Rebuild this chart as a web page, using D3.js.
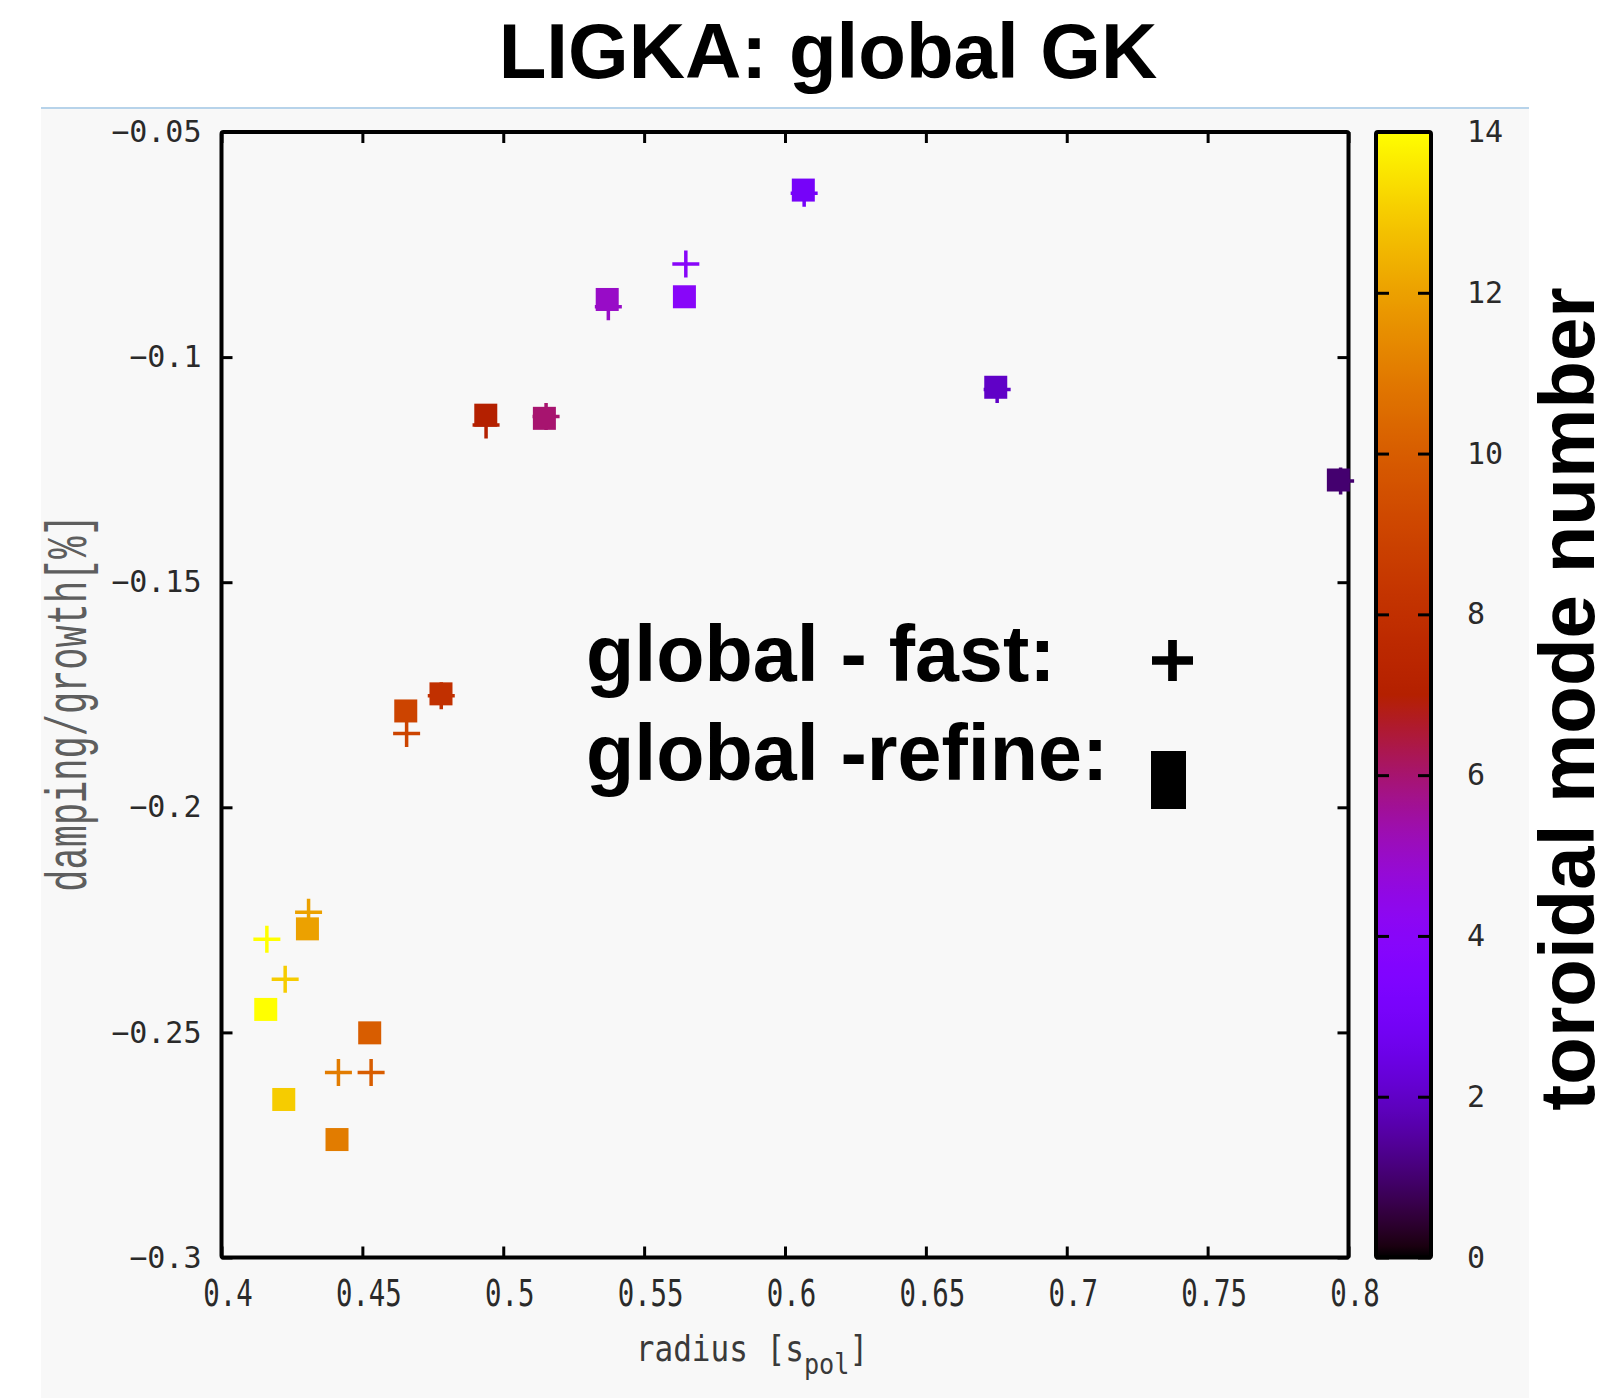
<!DOCTYPE html>
<html>
<head>
<meta charset="utf-8">
<script src="https://cdn.jsdelivr.net/npm/d3@7"></script>
<style>
  html, body { margin: 0; padding: 0; background: #ffffff; }
  svg { display: block; }
</style>
</head>
<body>
<svg id="chart" width="1612" height="1398"></svg>
<script>
// ---------------- data ----------------
const modeNumber   = [14, 13, 12, 11, 10, 9, 8, 7, 6, 5, 4, 3, 2, 1];
// global - refine (squares)
const refineRadius = [0.4157, 0.4221, 0.4305, 0.4410, 0.4526, 0.4654, 0.4779, 0.4938, 0.5146, 0.5369, 0.5643, 0.6065, 0.6748, 0.7964];
const refineGamma  = [-0.2449, -0.2649, -0.2270, -0.2738, -0.2501, -0.1786, -0.1748, -0.1129, -0.1136, -0.0872, -0.0866, -0.0629, -0.1067, -0.1273];
// global - fast (pluses)
const fastRadius   = [0.4161, 0.4226, 0.4309, 0.4415, 0.4531, 0.4657, 0.4780, 0.4939, 0.5152, 0.5373, 0.5648, 0.6068, 0.6753, 0.7972];
const fastGamma    = [-0.2293, -0.2382, -0.2233, -0.2589, -0.2589, -0.1836, -0.1752, -0.1151, -0.1132, -0.0888, -0.0793, -0.0636, -0.1072, -0.1275];

const xTicks      = [0.4, 0.45, 0.5, 0.55, 0.6, 0.65, 0.7, 0.75, 0.8];
const xTickLabels = ["0.4", "0.45", "0.5", "0.55", "0.6", "0.65", "0.7", "0.75", "0.8"];
const yTicks      = [-0.05, -0.1, -0.15, -0.2, -0.25, -0.3];
const yTickLabels = ["\u22120.05", "\u22120.1", "\u22120.15", "\u22120.2", "\u22120.25", "\u22120.3"];
const cbTicks     = [0, 2, 4, 6, 8, 10, 12, 14];
const cbTickLabels = ["0", "2", "4", "6", "8", "10", "12", "14"];

const titleText   = "LIGKA: global GK";
const xLabelMain  = "radius [s";
const xLabelSub   = "pol";
const xLabelEnd   = "]";
const yLabelText  = "damping/growth[%]";
const cbLabelText = "toroidal mode number";
const legendFast  = "global - fast:";
const legendRefine = "global -refine:";

// ---------------- drawing ----------------
const svg = d3.select("#chart");
const tickFont = "'DejaVu Sans Mono', monospace";
const boldFont = "'Liberation Sans', Arial, Helvetica, sans-serif";

// gnuplot default pm3d palette (rgbformulae 7,5,15)
const gnuPalette = t => {
  const r = Math.sqrt(t), g = t * t * t, b = Math.max(0, Math.sin(2 * Math.PI * t));
  return d3.rgb(r * 255, g * 255, b * 255).formatHex();
};
const color = d3.scaleSequential(gnuPalette).domain([0, 14]);

// backgrounds
svg.append("rect").attr("x", 0).attr("y", 0).attr("width", 1612).attr("height", 1398).attr("fill", "#ffffff");
svg.append("rect").attr("x", 41).attr("y", 108).attr("width", 1488).attr("height", 1290).attr("fill", "#f8f8f8");
svg.append("line").attr("x1", 41).attr("x2", 1529).attr("y1", 108).attr("y2", 108)
  .attr("stroke", "#b7d3ea").attr("stroke-width", 2);

// title
svg.append("text").attr("x", 828).attr("y", 78).attr("text-anchor", "middle")
  .attr("font-family", boldFont).attr("font-weight", "bold").attr("font-size", 78)
  .attr("fill", "#000").text(titleText);

// scales
const x = d3.scaleLinear().domain([0.4, 0.8]).range([221.5, 1348.5]);
const y = d3.scaleLinear().domain([-0.3, -0.05]).range([1257.5, 132]);

// axes
const styleAxis = g => {
  g.select(".domain").remove();
  g.selectAll(".tick line").attr("stroke", "#000").attr("stroke-width", 3);
};
svg.append("g").attr("transform", "translate(0,1257.5)")
  .call(d3.axisBottom(x).tickValues(xTicks).tickFormat((d, i) => xTickLabels[i]).tickSizeInner(-11).tickSizeOuter(0).tickPadding(22))
  .call(styleAxis)
  .call(g => g.selectAll("text").attr("font-family", tickFont).attr("font-size", 37).attr("fill", "#2a2a2a")
    .attr("dy", "0.71em").attr("x", 0).attr("transform", "translate(6,0) scale(0.74,1)"));
svg.append("g").attr("transform", "translate(0,132)")
  .call(d3.axisTop(x).tickValues(xTicks).tickFormat("").tickSizeInner(-11).tickSizeOuter(0))
  .call(styleAxis);
svg.append("g").attr("transform", "translate(221.5,0)")
  .call(d3.axisLeft(y).tickValues(yTicks).tickFormat((d, i) => yTickLabels[i]).tickSizeInner(-11).tickSizeOuter(0).tickPadding(20))
  .call(styleAxis)
  .call(g => g.selectAll("text").attr("font-family", tickFont).attr("font-size", 30).attr("fill", "#2a2a2a"));
svg.append("g").attr("transform", "translate(1348.5,0)")
  .call(d3.axisRight(y).tickValues(yTicks).tickFormat("").tickSizeInner(-11).tickSizeOuter(0))
  .call(styleAxis);

// frame
svg.append("rect").attr("x", 221.5).attr("y", 132).attr("width", 1348.5 - 221.5).attr("height", 1257.5 - 132)
  .attr("fill", "none").attr("stroke", "#000").attr("stroke-width", 4).attr("rx", 2);

// data: fast (plus) drawn first, refine (square) on top
const fastData = modeNumber.map((n, i) => ({ n, r: fastRadius[i], g: fastGamma[i] }));
const refineData = modeNumber.map((n, i) => ({ n, r: refineRadius[i], g: refineGamma[i] }));

const plusHalf = 13.5;
svg.append("g").selectAll("path").data(fastData).join("path")
  .attr("transform", d => `translate(${x(d.r)},${y(d.g)})`)
  .attr("d", `M${-plusHalf},0H${plusHalf}M0,${-plusHalf}V${plusHalf}`)
  .attr("stroke", d => color(d.n)).attr("stroke-width", 3.5).attr("fill", "none");

const sq = 23;
svg.append("g").selectAll("rect").data(refineData).join("rect")
  .attr("x", d => x(d.r) - sq / 2).attr("y", d => y(d.g) - sq / 2)
  .attr("width", sq).attr("height", sq)
  .attr("fill", d => color(d.n));

// colorbar
const cb = d3.scaleLinear().domain([0, 14]).range([1257.5, 132]);
const defs = svg.append("defs");
const grad = defs.append("linearGradient").attr("id", "cbgrad")
  .attr("x1", 0).attr("y1", 0).attr("x2", 0).attr("y2", 1);
d3.range(0, 101).forEach(i => {
  grad.append("stop").attr("offset", i + "%").attr("stop-color", color(14 * (1 - i / 100)));
});
const cbX0 = 1376, cbX1 = 1431;
svg.append("rect").attr("x", cbX0).attr("y", 132).attr("width", cbX1 - cbX0).attr("height", 1257.5 - 132)
  .attr("fill", "url(#cbgrad)");
svg.append("g").attr("transform", `translate(${cbX1},0)`)
  .call(d3.axisLeft(cb).tickValues(cbTicks).tickFormat("").tickSizeInner(13).tickSizeOuter(0))
  .call(styleAxis);
svg.append("g").attr("transform", `translate(${cbX0},0)`)
  .call(d3.axisRight(cb).tickValues(cbTicks).tickFormat("").tickSizeInner(13).tickSizeOuter(0))
  .call(styleAxis);
svg.append("g").attr("transform", `translate(${cbX1},0)`)
  .call(d3.axisRight(cb).tickValues(cbTicks).tickFormat((d, i) => cbTickLabels[i]).tickSize(0).tickPadding(36))
  .call(g => g.select(".domain").remove())
  .call(g => g.selectAll("text").attr("font-family", tickFont).attr("font-size", 30).attr("fill", "#2a2a2a"));
svg.append("rect").attr("x", cbX0).attr("y", 132).attr("width", cbX1 - cbX0).attr("height", 1257.5 - 132)
  .attr("fill", "none").attr("stroke", "#000").attr("stroke-width", 4).attr("rx", 2);

// colorbar label
svg.append("text").attr("transform", "translate(1594,699) rotate(-90)").attr("text-anchor", "middle")
  .attr("font-family", boldFont).attr("font-weight", "bold").attr("font-size", 78)
  .attr("fill", "#000").text(cbLabelText);

// axis labels
const xl = svg.append("text").attr("transform", "translate(752,1361) scale(0.97,1.1)").attr("text-anchor", "middle")
  .attr("font-family", tickFont).attr("font-size", 32).attr("fill", "#3a3a3a");
xl.append("tspan").text(xLabelMain);
xl.append("tspan").attr("font-size", 26).attr("dy", 12).text(xLabelSub);
xl.append("tspan").attr("dy", -12).text(xLabelEnd);

svg.append("text").attr("transform", "translate(71,703) rotate(-90) scale(1,1.55)").attr("text-anchor", "middle")
  .attr("dominant-baseline", "central")
  .attr("font-family", "'Liberation Mono', monospace").attr("font-size", 37).attr("fill", "#5e5e5e")
  .text(yLabelText);

// legend
svg.append("text").attr("x", 586).attr("y", 681)
  .attr("font-family", boldFont).attr("font-weight", "bold").attr("font-size", 79).attr("fill", "#000").text(legendFast);
svg.append("text").attr("x", 586).attr("y", 780)
  .attr("font-family", boldFont).attr("font-weight", "bold").attr("font-size", 79).attr("fill", "#000").text(legendRefine);
svg.append("path").attr("transform", "translate(1172.5,660.5)")
  .attr("d", "M-20.5,0H20.5M0,-20.5V20.5").attr("stroke", "#000").attr("stroke-width", 8.7).attr("fill", "none");
svg.append("rect").attr("x", 1151).attr("y", 751).attr("width", 35).attr("height", 58).attr("fill", "#000");
</script>
</body>
</html>
